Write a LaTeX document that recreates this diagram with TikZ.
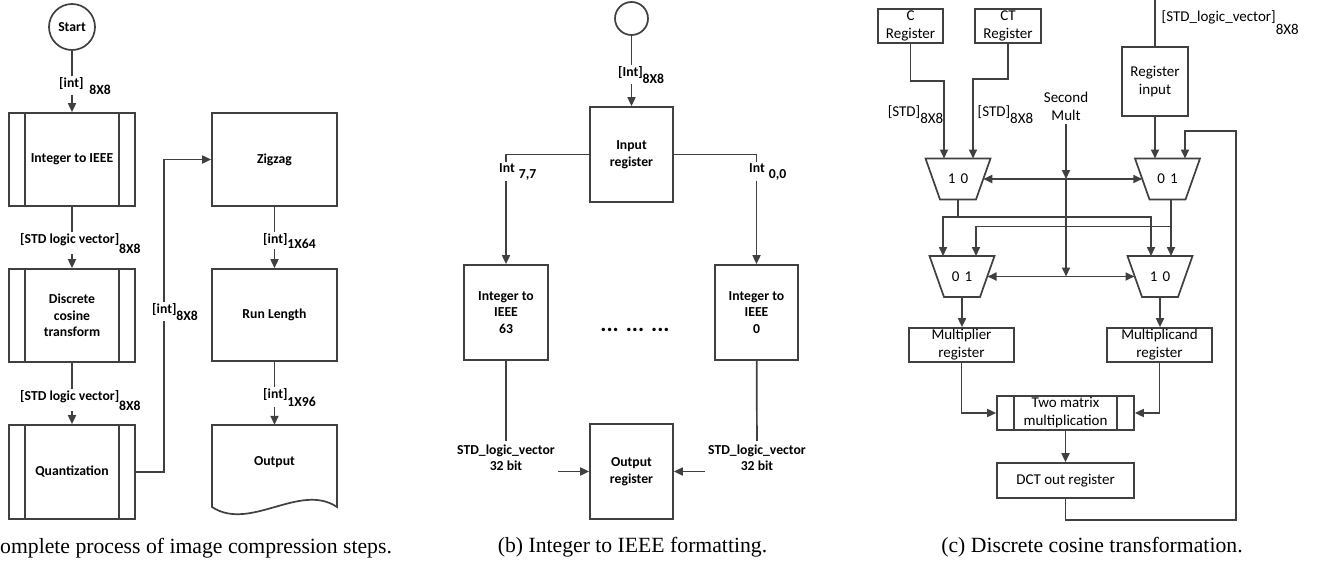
\documentclass[tikz,border=0pt]{standalone}
\usepackage{fontspec}
\setmainfont{Carlito}
\newfontfamily\capfont{Liberation Serif}
\usetikzlibrary{arrows.meta,calc}
\definecolor{lc}{HTML}{404040}
\newcommand\lsub[2][6pt]{\raisebox{-#1}{#2}}
\newcommand\muxdraw[1]{\draw[ln] ($(#1)+(-32.5,-20.5)$) -- ($(#1)+(32.5,-20.5)$) -- ($(#1)+(18,20.5)$) -- ($(#1)+(-18,20.5)$) -- cycle;}
\begin{document}
\begin{tikzpicture}[x=1pt,y=-1pt,
  ln/.style={draw=lc, line width=1.7pt},
  arr/.style={ln, -{Triangle[length=9pt,width=8pt]}},
  dbl/.style={ln, {Triangle[length=9pt,width=8pt]}-{Triangle[length=9pt,width=8pt]}},
  fa/.style={font=\fontsize{13.7}{16.5}\selectfont\bfseries, align=center, text=black},
  fc/.style={font=\fontsize{15}{18}\selectfont, align=center, text=black},
  bx/.style={ln, rectangle, inner sep=0pt},
  proc/.style={path picture={\draw[lc, line width=1.7pt]
      ($(path picture bounding box.north west)+(#1,0)$) -- ($(path picture bounding box.south west)+(#1,0)$)
      ($(path picture bounding box.north east)+(-#1,0)$) -- ($(path picture bounding box.south east)+(-#1,0)$);}},
  proc/.default=16,
  lbl/.style={fill=white, inner sep=1pt},
  capf/.style={font=\capfont\fontsize{21.7}{24}\selectfont, text=black}
]
\path[use as bounding box, fill=white] (0,0) rectangle (1322,565);

% ---------------- panel (a)
\node[circle, ln, minimum size=46pt, inner sep=0pt, fa] (start) at (72,27) {Start};
\node[bx, proc, minimum width=126pt, minimum height=93pt, fa] (i2i) at (72,159.5) {Integer to IEEE};
\node[bx, proc, minimum width=126pt, minimum height=93pt, fa] (dctt) at (72,315.5) {Discrete\\cosine\\transform};
\node[bx, proc, minimum width=126pt, minimum height=94pt, fa] (quant) at (72,472) {Quantization};
\node[bx, minimum width=125pt, minimum height=93pt, fa] (zig) at (274.5,159.5) {Zigzag};
\node[bx, minimum width=125pt, minimum height=92pt, fa] (rl) at (274.5,315) {Run Length};
\node[rectangle, inner sep=0pt, minimum width=125pt, minimum height=74pt, fa] (outp) at (274.5,462) {Output};
\draw[ln] (212,425) -- (337,425) -- (337,507) .. controls (300,482) and (250,532) .. (212,507) -- cycle;

\draw[arr] (start) -- (i2i);
\draw[arr] (i2i) -- (dctt);
\draw[arr] (dctt) -- (quant);
\draw[arr] (quant.east) -- ++(28,0) |- (zig.west);
\draw[arr] (zig) -- (rl);
\draw[arr] (rl) -- (outp);

\node[fa, lbl, anchor=base west] (la1) at (58,87) {[int]\hspace{6pt}\lsub[7pt]{8X8}};
\node[fa, lbl, anchor=base west] (la2) at (19,243) {[STD logic vector]\lsub[10pt]{8X8}};
\node[fa, lbl, anchor=base west] (la3) at (19,400) {[STD logic vector]\lsub[10pt]{8X8}};
\node[fa, lbl, anchor=base west] (la4) at (151,313) {[int]\lsub[7pt]{8X8}};
\node[fa, lbl, anchor=base west] (la5) at (262,243) {[int]\lsub[5pt]{1X64}};
\node[fa, lbl, anchor=base west] (la6) at (262,398) {[int]\lsub[8pt]{1X96}};

\node[capf, anchor=west, inner sep=0pt] (capa) at (0,548) {omplete process of image compression steps.};

% ---------------- panel (b)
\node[circle, ln, minimum size=33pt, inner sep=0pt] (b0) at (631.5,18.5) {};
\node[bx, minimum width=83pt, minimum height=95pt, fa] (inreg) at (631.5,154.5) {Input\\register};
\node[bx, minimum width=84pt, minimum height=95pt, fa] (i63) at (506,312.5) {Integer to\\IEEE\\63};
\node[bx, minimum width=83pt, minimum height=95pt, fa] (i0) at (756.5,312.5) {Integer to\\IEEE\\0};
\node[font=\fontsize{23}{24}\selectfont\bfseries, anchor=base] (dots) at (635,331) {... ... ...};
\node[bx, minimum width=83pt, minimum height=95pt, fa] (oreg) at (631.5,471.5) {Output\\register};
\node[fa] (s63) at (506,457.5) {STD\_logic\_vector\\32 bit};
\node[fa] (s0) at (757,457.5) {STD\_logic\_vector\\32 bit};

\draw[arr] (b0) -- (inreg);
\draw[arr] (inreg.west) -| (i63.north);
\draw[arr] (inreg.east) -| (i0.north);
\draw[ln] (i63) -- (s63);
\draw[ln] (i0) -- (s0);
\draw[arr] (s63.east |- oreg.west) -- (oreg.west);
\draw[arr] (s0.west |- oreg.east) -- (oreg.east);

\node[fa, lbl, anchor=base west] (lb1) at (617,76) {[Int]\lsub[7pt]{8X8}};
\node[fa, lbl, anchor=base west] (lb2) at (498,172) {Int\hspace{4pt}\lsub[6pt]{7,7}};
\node[fa, lbl, anchor=base west] (lb3) at (748,172) {Int\hspace{4pt}\lsub[6pt]{0,0}};

\node[capf] (capb) at (632.5,547) {(b) Integer to IEEE formatting.};

% ---------------- panel (c)
\node[bx, minimum width=65pt, minimum height=34pt, fc] (creg) at (910.5,26) {C\\Register};
\node[bx, minimum width=66pt, minimum height=34pt, fc] (ctreg) at (1008,26) {CT\\Register};
\node[fc] (smult) at (1066,106) {Second\\Mult};
\node[bx, minimum width=66pt, minimum height=69pt, fc] (rin) at (1155,81.5) {Register\\input};
\coordinate (cin) at (1155,0);

\node[fc] (m1) at (958,179) {1\hspace{5pt}0};
\node[fc] (m2) at (1167.5,179) {0\hspace{5pt}1};
\node[fc] (m3) at (962,276.5) {0\hspace{5pt}1};
\node[fc] (m4) at (1160,276.5) {1\hspace{5pt}0};
\muxdraw{m1}
\muxdraw{m2}
\muxdraw{m3}
\muxdraw{m4}
\coordinate (m1a) at ($(m1)+(-14,-20.5)$);
\coordinate (m1b) at ($(m1)+(15,-20.5)$);
\coordinate (m2a) at ($(m2)+(-12.5,-20.5)$);
\coordinate (m2b) at ($(m2)+(17.5,-20.5)$);
\coordinate (m3a) at ($(m3)+(-19,-20.5)$);
\coordinate (m3b) at ($(m3)+(14,-20.5)$);
\coordinate (m4a) at ($(m4)+(-9,-20.5)$);
\coordinate (m4b) at ($(m4)+(11,-20.5)$);
\coordinate (m1o) at ($(m1)+(0,20.5)$);
\coordinate (m2o) at ($(m2)+(3.5,20.5)$);
\coordinate (m3o) at ($(m3)+(0,20.5)$);
\coordinate (m4o) at ($(m4)+(0,20.5)$);
\coordinate (m1r) at ($(m1)+(25.25,0)$);
\coordinate (m2l) at ($(m2)+(-25.25,0)$);
\coordinate (m3r) at ($(m3)+(25.5,0)$);
\coordinate (m4l) at ($(m4)+(-25.5,0)$);
\coordinate (j1) at (1066,179);
\coordinate (j2) at (1066,276.5);
\coordinate (h1) at ($(m1o)+(0,17.5)$);
\coordinate (h2) at ($(m2o)+(0,27)$);
\coordinate (fb) at (1236,131);

\node[bx, minimum width=105pt, minimum height=34pt, fc] (mlr) at (961.5,345) {Multiplier\\register};
\node[bx, minimum width=105pt, minimum height=34pt, fc] (mcd) at (1159.5,345) {Multiplicand\\register};
\node[bx, proc=17, minimum width=137pt, minimum height=34pt, fc] (tm) at (1065.5,413) {Two matrix\\multiplication};
\node[bx, minimum width=137pt, minimum height=35pt, fc] (dcto) at (1065.5,480.5) {DCT out register};

\draw[arr] (creg.south) -- ++(0,37) -| (m1a);
\draw[arr] (ctreg.south) -- ++(0,35) -| (m1b);
\draw[ln] (cin) -- (rin.north);
\draw[arr] (rin.south) -- (m2a);
\draw[arr] (smult.south) -- (j1);
\draw[arr] (j1) -- (j2);
\draw[dbl] (m1r) -- (m2l);
\draw[dbl] (m3r) -- (m4l);
\draw[ln] (m1o) -- (h1);
\draw[arr] (h1) -| (m3a);
\draw[arr] (h1) -| (m4a);
\draw[arr] (m2o) -- (m4b);
\draw[arr] (h2) -| (m3b);
\draw[arr] (m3o) -- (m3o |- mlr.north);
\draw[arr] (m4o) -- (m4o |- mcd.north);
\draw[arr] (mlr.south) |- (tm.west);
\draw[arr] (mcd.south) |- (tm.east);
\draw[arr] (tm) -- (dcto);
\draw[arr] (dcto.south) -- ++(0,21) -| (fb) -| (m2b);

\node[fc, inner sep=0.5pt, anchor=base east] (lc1) at (944,116) {[STD]\lsub[7pt]{8X8}};
\node[fc, inner sep=0.5pt, anchor=base west] (lc2) at (977,116) {[STD]\lsub[7pt]{8X8}};
\node[fc, inner sep=0.5pt, anchor=base west] (lc3) at (1161,21) {[STD\_logic\_vector]\lsub[13pt]{8X8}};

\node[capf] (capc) at (1092,547) {(c) Discrete cosine transformation.};
\end{tikzpicture}
\end{document}
